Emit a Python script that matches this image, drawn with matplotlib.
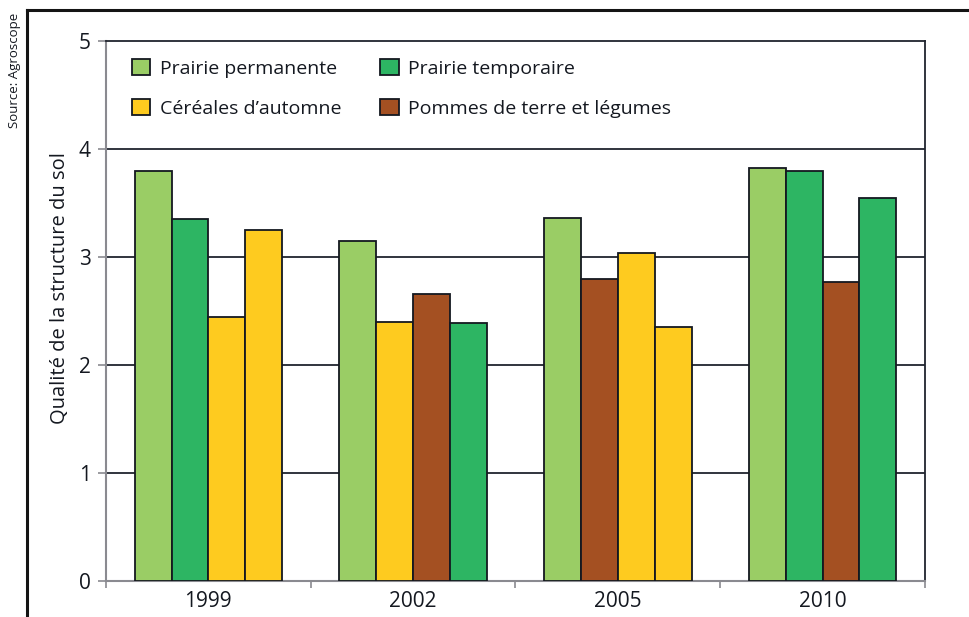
import numpy as np
import matplotlib
matplotlib.use('Agg')
import matplotlib.pyplot as plt
from matplotlib.patches import Patch
from matplotlib.lines import Line2D

plt.rcParams['font.family'] = ['Open Sans', 'DejaVu Sans']

years = ['1999', '2002', '2005', '2010']
categories = ['Prairie permanente', 'Prairie temporaire',
              'Céréales d’automne', 'Pommes de terre et légumes']
colors = ['#9ACD65', '#2DB563', '#FECB1F', '#A45022']

# category index of each bar, per year
cats_1999 = [0, 1, 2, 2]
cats_2002 = [0, 2, 3, 1]
cats_2005 = [0, 3, 2, 2]
cats_2010 = [0, 1, 3, 1]
vals_1999 = [3.80, 3.35, 2.44, 3.25]
vals_2002 = [3.15, 2.40, 2.66, 2.39]
vals_2005 = [3.36, 2.80, 3.04, 2.35]
vals_2010 = [3.82, 3.80, 2.77, 3.55]

group_cats = [cats_1999, cats_2002, cats_2005, cats_2010]
group_vals = [vals_1999, vals_2002, vals_2005, vals_2010]

fig = plt.figure(figsize=(9.7, 6.17), dpi=100)
ax = fig.add_axes([106/970, 1 - 581/617, (925 - 106)/970, (581 - 41)/617])

w = 0.18
offsets = (np.arange(4) - 1.5) * w
for i, (cs, vs) in enumerate(zip(group_cats, group_vals)):
    for j, (c, v) in enumerate(zip(cs, vs)):
        ax.bar(i + offsets[j], v, width=w, color=colors[c],
               edgecolor='#141820', linewidth=1.3, zorder=3)

for y in [1, 2, 3, 4]:
    ax.axhline(y, color='#20242e', lw=1.3, zorder=1)

ax.set_xlim(-0.5, 3.5)
ax.set_ylim(0, 5)
ax.set_yticks([0, 1, 2, 3, 4, 5])
ax.set_xticks(range(4))
ax.set_xticklabels(years)
ax.set_xticks(np.arange(-0.5, 4, 1), minor=True)
ax.tick_params(axis='x', which='major', length=0, pad=7, labelsize=15, labelcolor='#141820')
ax.tick_params(axis='x', which='minor', length=5, width=1.2, color='#8a8a90')
ax.tick_params(axis='y', length=6, width=1.2, color='#8a8a90', pad=5, labelsize=15, labelcolor='#141820')

for s in ['left', 'bottom']:
    ax.spines[s].set_color('#8a8a90')
    ax.spines[s].set_linewidth(1.5)
for s in ['top', 'right']:
    ax.spines[s].set_color('#20242e')
    ax.spines[s].set_linewidth(1.3)

handles = [Patch(facecolor=colors[k], edgecolor='#141820', linewidth=1.3) for k in [0, 2, 1, 3]]
labels = [categories[k] for k in [0, 2, 1, 3]]
ax.legend(handles, labels, ncol=2, loc='upper left', bbox_to_anchor=(0.01, 1.0),
          frameon=False, fontsize=14, handlelength=0.95, handleheight=0.95,
          handletextpad=0.5, columnspacing=2.0, labelspacing=1.08,
          labelcolor='#141820')

fig.text(60/970, 1 - 288/617, 'Qualité de la structure du sol', rotation=90,
         ha='center', va='center', fontsize=14.5, color='#141820')
fig.text(15/970, 1 - 13/617, 'Source: Agroscope', rotation=90,
         ha='center', va='top', fontsize=9.5, color='#141820')

fig.add_artist(Line2D([27/970, 27/970], [0, 1 - 10/617], color='#141414', lw=2.2))
fig.add_artist(Line2D([27/970, 1], [1 - 10/617, 1 - 10/617], color='#141414', lw=2.2))

fig.savefig('out.png', dpi=100)
